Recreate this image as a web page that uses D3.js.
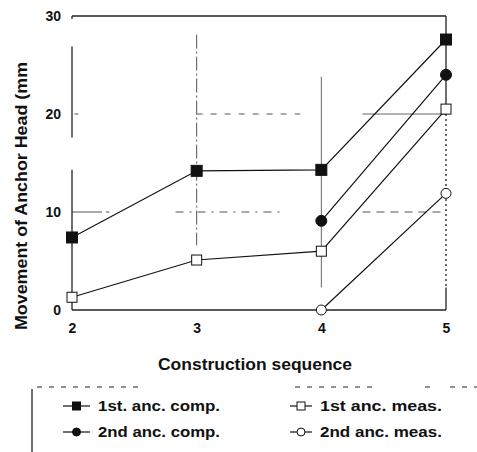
<!DOCTYPE html>
<html>
<head>
<meta charset="utf-8">
<script src="https://cdn.jsdelivr.net/npm/d3@7"></script>
<style>
  body { margin: 0; background: #fff; }
  svg text { font-family: "Liberation Sans", Arial, sans-serif; font-weight: bold; fill: #111; }
</style>
</head>
<body>
<div id="chart"></div>
<script>
// data
const steps = [2, 3, 4, 5];
const yTicks = [0, 10, 20, 30];
const anc1Comp = [7.4, 14.2, 14.3, 27.6];
const anc1Meas = [1.3, 5.1, 6.0, 20.5];
const anc2Steps = [4, 5];
const anc2Comp = [9.1, 24.0];
const anc2Meas = [0, 11.9];
const legendLabels = ["1st. anc. comp.", "1st anc. meas.", "2nd anc. comp.", "2nd anc. meas."];

const W = 477, H = 452;
const svg = d3.select("#chart").append("svg").attr("width", W).attr("height", H);

const x = d3.scaleLinear().domain([2, 5]).range([72, 446]);
const y = d3.scaleLinear().domain([0, 30]).range([310, 16]);

const series = [
  { xs: steps, ys: anc1Comp, shape: "square", filled: true, size: 11 },
  { xs: steps, ys: anc1Meas, shape: "square", filled: false, size: 10 },
  { xs: anc2Steps, ys: anc2Comp, shape: "circle", filled: true, size: 11 },
  { xs: anc2Steps, ys: anc2Meas, shape: "circle", filled: false, size: 10 }
];

// faint scanned grid pieces (data units)
const grid = svg.append("g").attr("fill", "none").attr("stroke-width", 1);
const seg = (x1, y1, x2, y2, dash, col) =>
  grid.append("line")
    .attr("x1", x(x1)).attr("y1", y(y1)).attr("x2", x(x2)).attr("y2", y(y2))
    .attr("stroke", col || "#555").attr("stroke-dasharray", dash || null);

seg(3, 28.1, 3, 6.6, "14,3,2,3");
seg(4, 23.8, 4, 2.3, null, "#666");
seg(3, 20, 3.83, 20, "6,8");
seg(4.33, 20, 5, 20, null, "#666");
seg(2.02, 20, 2.05, 20, null);
seg(2, 10, 2.3, 10, "30,4");
seg(2.83, 10, 3.7, 10, "8,6,2,6");
seg(4.33, 10, 5, 10, "8,6");

// frame (broken in places like the scan)
const frame = svg.append("g").attr("fill", "none").attr("stroke", "#222").attr("stroke-width", 1.3);
const fseg = (x1, y1, x2, y2, dash) =>
  frame.append("line")
    .attr("x1", x(x1)).attr("y1", y(y1)).attr("x2", x(x2)).attr("y2", y(y2))
    .attr("stroke-dasharray", dash || null);
fseg(2, 30, 5, 30);
fseg(2, 0, 5, 0);
fseg(2, 30, 2, 29.7);
fseg(2, 26.9, 2, 17.6);
fseg(2, 14.3, 2, 0);
fseg(5, 30, 5, 20.5);
fseg(5, 20.5, 5, 2.3, "2,3");
fseg(5, 2.3, 5, 0);

// axes (labels only)
const yAxis = svg.append("g").attr("transform", `translate(${x(2)},0)`)
  .call(d3.axisLeft(y).tickValues(yTicks).tickSize(0).tickPadding(11));
const xAxis = svg.append("g").attr("transform", `translate(0,${y(0)})`)
  .call(d3.axisBottom(x).tickValues(steps).tickSize(0).tickPadding(13).tickFormat(d3.format("d")));
[yAxis, xAxis].forEach(a => {
  a.select(".domain").remove();
  a.selectAll("text").attr("font-size", 14).attr("font-family", null).style("fill", "#111");
});

// lines + markers
const line = d3.line().x(d => x(d[0])).y(d => y(d[1]));

function marker(g, shape, filled, size, cx, cy) {
  if (shape === "square") {
    g.append("rect")
      .attr("x", cx - size / 2).attr("y", cy - size / 2)
      .attr("width", size).attr("height", size)
      .attr("fill", filled ? "#111" : "#fff").attr("stroke", "#111").attr("stroke-width", 1);
  } else {
    g.append("circle")
      .attr("cx", cx).attr("cy", cy).attr("r", size / 2)
      .attr("fill", filled ? "#111" : "#fff").attr("stroke", "#111").attr("stroke-width", 1);
  }
}

series.forEach(s => {
  const pts = s.xs.map((v, i) => [v, s.ys[i]]);
  svg.append("path").datum(pts)
    .attr("fill", "none").attr("stroke", "#111").attr("stroke-width", 1.2)
    .attr("d", line);
  const g = svg.append("g");
  pts.forEach(p => marker(g, s.shape, s.filled, s.size, x(p[0]), y(p[1])));
});

// axis titles
svg.append("text")
  .attr("transform", `translate(27,${196}) rotate(-90)`)
  .attr("text-anchor", "middle")
  .attr("font-size", 16)
  .attr("textLength", 268).attr("lengthAdjust", "spacingAndGlyphs")
  .text("Movement of Anchor Head (mm");

svg.append("text")
  .attr("x", 255).attr("y", 370)
  .attr("text-anchor", "middle")
  .attr("font-size", 16)
  .attr("textLength", 194).attr("lengthAdjust", "spacingAndGlyphs")
  .text("Construction sequence");

// legend
const lg = svg.append("g");
const lframe = lg.append("g").attr("stroke", "#222").attr("fill", "none");
[[37, 140], [295, 373], [425, 435], [450, 477]].forEach(r =>
  lframe.append("line").attr("x1", r[0]).attr("x2", r[1]).attr("y1", 387).attr("y2", 387)
    .attr("stroke-dasharray", "5,7"));
lframe.append("line").attr("x1", 32).attr("x2", 32).attr("y1", 389).attr("y2", 452).attr("stroke-width", 1.3);

const colX = [63, 290];
const symW = [27, 22];
const rowY = [406, 432];
legendLabels.forEach((label, i) => {
  const s = series[i];
  const col = i % 2, row = Math.floor(i / 2);
  const x0 = colX[col], yy = rowY[row];
  lg.append("line").attr("x1", x0).attr("x2", x0 + symW[col]).attr("y1", yy).attr("y2", yy)
    .attr("stroke", "#111").attr("stroke-width", 1.2);
  marker(lg, s.shape, s.filled, 8, x0 + symW[col] / 2, yy);
  lg.append("text")
    .attr("x", x0 + symW[col] + 8).attr("y", yy + 5)
    .attr("font-size", 15)
    .attr("textLength", 122).attr("lengthAdjust", "spacingAndGlyphs")
    .text(label);
});
</script>
</body>
</html>
